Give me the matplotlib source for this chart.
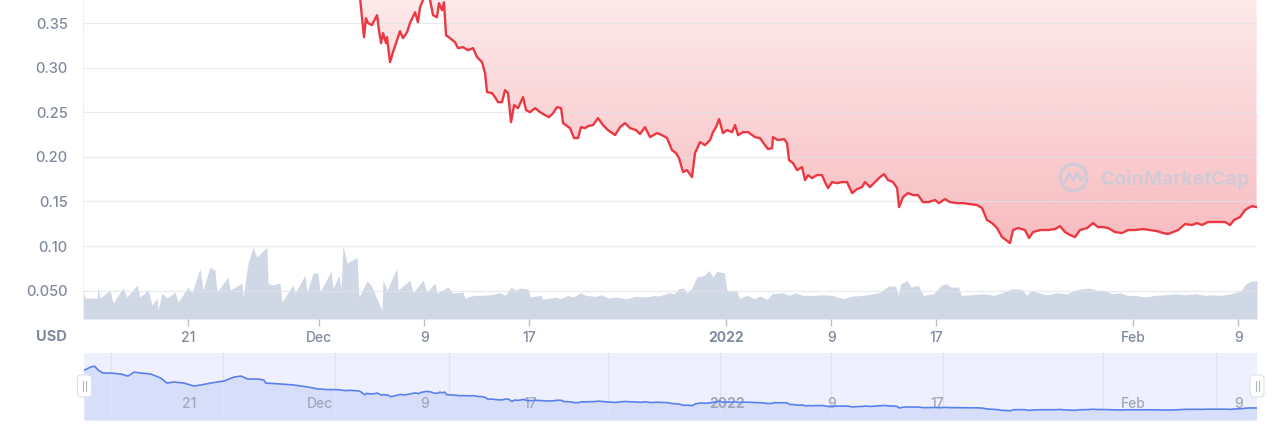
import numpy as np
import pandas as pd
import matplotlib
matplotlib.use("Agg")
import matplotlib.pyplot as plt
import matplotlib.dates as mdates
from matplotlib.patches import FancyBboxPatch, Circle
from matplotlib.transforms import IdentityTransform

plt.rcParams['font.family'] = ['Inter', 'DejaVu Sans']

START = pd.Timestamp("2021-11-13")
END_DAY = 89.41  # right edge of the chart, days after START

early_days = [0.0, 0.5, 0.8, 1.1, 1.45, 2.06, 2.82, 3.35, 3.81, 4.34, 5.10, 5.86, 6.32, 6.85,
              7.62, 8.38, 8.91, 9.67, 10.66, 11.42, 11.96, 12.49, 13.25, 13.71, 13.86, 15.0,
              15.99, 17.06, 17.82, 18.58, 19.34, 19.95, 20.33, 20.94]
early_price = [0.69, 0.735, 0.75, 0.69, 0.65, 0.65, 0.635, 0.606, 0.663, 0.65, 0.635, 0.577,
               0.505, 0.52, 0.505, 0.462, 0.477, 0.505, 0.534, 0.591, 0.606, 0.563, 0.563,
               0.548, 0.505, 0.491, 0.477, 0.448, 0.42, 0.41, 0.41, 0.395, 0.40, 0.39]

# visible price (USD)
price_days = [21.10, 21.25, 21.40, 21.55, 21.71, 22.01, 22.39, 22.54, 22.70, 22.85,
              23.08, 23.15, 23.38, 23.61, 23.91, 24.14, 24.37, 24.68, 24.90, 25.29,
              25.51, 25.67, 25.90, 26.12, 26.43, 26.66, 26.96, 27.11, 27.34, 27.49,
              27.65, 27.95, 28.33, 28.56, 28.94, 29.32, 29.70, 30.01, 30.39, 30.62,
              30.77, 31.15, 31.38, 31.61, 31.91, 32.14, 32.37, 32.60, 32.83, 33.13,
              33.51, 33.74, 34.04, 34.43, 34.81, 35.19, 35.49, 35.80, 36.10, 36.41,
              36.56, 37.09, 37.40, 37.70, 37.93, 38.23, 38.46, 38.84, 39.22, 39.60,
              39.98, 40.52, 40.90, 41.28, 41.66, 42.12, 42.42, 42.80, 43.18, 43.72,
              44.10, 44.48, 44.86, 45.16, 45.39, 45.70, 46.00, 46.38, 46.61, 46.99,
              47.37, 47.75, 47.98, 48.21, 48.44, 48.74, 49.05, 49.43, 49.66, 49.89,
              50.27, 50.65, 51.18, 51.56, 51.94, 52.17, 52.48, 52.55, 52.93, 53.39,
              53.62, 53.77, 54.07, 54.38, 54.76, 54.99, 55.22, 55.52, 55.90, 56.28,
              56.51, 56.74, 57.05, 57.43, 57.81, 58.19, 58.57, 58.95, 59.33, 59.56,
              59.94, 60.32, 60.70, 61.01, 61.31, 61.69, 62.00, 62.15, 62.45, 62.83,
              63.21, 63.59, 63.97, 64.36, 64.89, 65.19, 65.65, 66.03, 66.57, 67.02,
              67.56, 68.09, 68.47, 68.85, 69.23, 69.61, 69.99, 70.30, 70.60, 70.83,
              71.21, 71.74, 72.05, 72.35, 72.89, 73.50, 74.03, 74.41, 74.79, 75.17,
              75.55, 75.93, 76.47, 76.92, 77.30, 77.68, 78.07, 78.60, 79.13, 79.59,
              80.12, 80.73, 81.26, 81.80, 82.25, 82.64, 83.02, 83.40, 83.93, 84.46,
              84.84, 85.22, 85.68, 86.21, 86.60, 86.98, 87.36, 87.66, 88.12, 88.50,
              88.73, 89.03, 89.38]
price = [0.378, 0.3567, 0.3343, 0.3556, 0.35, 0.3478, 0.359, 0.3422, 0.3276, 0.3388,
         0.3276, 0.3343, 0.3063, 0.3175, 0.3309, 0.341, 0.3332, 0.3399, 0.35, 0.3623,
         0.3511, 0.3679, 0.376, 0.385, 0.376, 0.359, 0.3567, 0.3724, 0.3646, 0.3735,
         0.3365, 0.3332, 0.3287, 0.322, 0.3231, 0.3197, 0.322, 0.3119, 0.3063, 0.2939,
         0.2727, 0.2715, 0.2671, 0.2614, 0.2614, 0.2749, 0.2715, 0.239, 0.2581, 0.2547,
         0.2671, 0.2525, 0.2502, 0.2547, 0.2502, 0.2469, 0.2446, 0.2491, 0.2558, 0.2547,
         0.2379, 0.2323, 0.2211, 0.2211, 0.2334, 0.2323, 0.2345, 0.2357, 0.2435, 0.2357,
         0.2301, 0.2245, 0.2334, 0.2379, 0.2323, 0.2301, 0.2256, 0.2334, 0.2222, 0.2267,
         0.2244, 0.2211, 0.2076, 0.2043, 0.1987, 0.1830, 0.1852, 0.1774, 0.2043, 0.2166,
         0.2132, 0.2188, 0.2278, 0.2334, 0.2424, 0.2267, 0.2301, 0.2278, 0.2357, 0.2244,
         0.2278, 0.2278, 0.2222, 0.2211, 0.2132, 0.2088, 0.2099, 0.2222, 0.2188, 0.22,
         0.2155, 0.1964, 0.1931, 0.1852, 0.1886, 0.174, 0.1796, 0.1762, 0.1796, 0.1796,
         0.1718, 0.165, 0.1718, 0.1706, 0.1718, 0.1718, 0.1594, 0.1639, 0.1662, 0.1718,
         0.1662, 0.1718, 0.1774, 0.1807, 0.174, 0.1718, 0.165, 0.1437, 0.1549, 0.1594,
         0.1572, 0.1572, 0.1493, 0.1493, 0.1516, 0.1482, 0.1527, 0.1493, 0.1482, 0.1482,
         0.1471, 0.146, 0.1426, 0.1292, 0.1258, 0.1202, 0.1101, 0.1067, 0.1034, 0.118,
         0.1202, 0.118, 0.109, 0.1157, 0.118, 0.118, 0.1191, 0.1224, 0.1157, 0.1124,
         0.1101, 0.118, 0.1202, 0.1258, 0.1213, 0.1213, 0.1202, 0.1157, 0.1146, 0.118,
         0.118, 0.1191, 0.118, 0.1168, 0.1146, 0.1135, 0.1157, 0.118, 0.1247, 0.1236,
         0.1258, 0.1236, 0.127, 0.127, 0.127, 0.127, 0.1236, 0.1292, 0.1325, 0.1404,
         0.1426, 0.1448, 0.1437]

# 24h volume (relative units, the chart has no volume scale)
vol_days = [0, 0.15, 1.07, 1.14, 1.29, 2.06, 2.28, 3.05, 3.35, 4.11,
            4.34, 4.95, 5.26, 5.64, 5.71, 6.02, 6.40, 7.01, 7.24, 8.00,
            8.30, 8.91, 9.14, 9.67, 10.05, 10.21, 11.04, 11.20, 12.11, 12.19,
            12.57, 12.95, 13.25, 14.01, 14.09, 14.39, 15.00, 15.16, 15.99, 16.15,
            16.91, 17.06, 17.52, 17.90, 18.05, 18.89, 19.04, 19.50, 19.65, 19.80,
            20.11, 20.87, 21.02, 21.63, 21.93, 22.77, 22.85, 23.15, 23.91, 23.99,
            24.90, 25.13, 25.89, 26.20, 26.81, 26.96, 27.80, 28.18, 28.94, 29.09,
            29.86,
            30.24, 31.00, 31.77, 32.16, 32.61, 32.92, 33.31, 33.88, 34.07, 34.84,
            35.03, 36.00, 36.37, 36.95, 37.33, 37.91, 38.29, 39.06, 39.44, 40.02,
            40.60, 41.36, 42.13, 42.90, 43.47, 43.86, 44.62, 45.01, 45.39, 45.77,
            45.97, 46.35, 46.73, 47.31, 47.69, 47.96, 48.27, 48.84, 49.04, 49.80,
            50.00, 50.57, 51.15, 51.53, 52.11, 52.49, 53.26, 53.83, 54.22, 54.79,
            55.56, 56.33, 57.10, 57.86, 58.63, 59.40, 60.17, 60.74, 61.32, 61.89,
            62.09, 62.28, 62.77, 63.04, 63.62, 64.00, 64.77, 65.35, 65.73, 66.11,
            66.69, 66.88, 67.65, 68.61, 69.38, 70.14, 70.72, 71.48, 71.87, 72.25,
            72.83, 73.40, 74.17, 74.94, 75.51, 76.09, 76.66, 77.24, 77.81, 78.39,
            78.96, 79.54, 80.11, 80.88, 81.65, 82.42, 83.18, 83.95, 84.72, 85.49,
            86.06, 86.64, 87.40, 87.79, 88.17, 88.56, 88.94, 89.41]
volume = [29, 21, 21, 32, 21, 29, 16, 31, 22, 34,
          22, 29, 14, 21, 9, 26, 21, 27, 17, 32,
          26, 51, 29, 52, 49, 27, 42, 29, 36, 22,
          56, 72, 62, 72, 36, 34, 36, 17, 34, 26,
          44, 27, 46, 46, 27, 48, 31, 44, 29, 74,
          56, 62, 22, 38, 34, 9, 39, 29, 51, 29,
          39, 26, 39, 27, 36, 26, 32, 26, 27, 21,
          24,
          23.7, 24.3, 26.3, 23.7, 32, 28.7, 31, 30.3, 22, 23.7,
          19.7, 22, 20.3, 23.7, 22, 26.3, 23.7, 22.7, 24.3, 21,
          22, 20.3, 22.7, 22, 23.7, 23, 26.3, 25.3, 30.3, 31,
          26.3, 30.3, 42, 43.7, 48.7, 42, 47.7, 46.3, 28.7, 28.7,
          20.3, 23.7, 20.3, 23, 19.7, 25.3, 26.3, 23.7, 26.3, 23.7,
          23.7, 24.3, 23.7, 20.3, 23, 23.7, 25.3, 27, 33, 33,
          23.7, 35.3, 38.7, 32, 33.7, 23.7, 25.3, 33.7, 35.3, 32,
          32, 23.7, 24.3, 25.3, 23.7, 27, 30.3, 29.7, 23.7, 28.7,
          26.3, 24.3, 26.3, 25.3, 28.7, 30.3, 31, 28.7, 28.7, 25.3,
          26.3, 23.7, 23.7, 22, 23.7, 24.3, 25.3, 24.3, 25.3, 23.7,
          24.3, 23.7, 25.3, 27, 27.7, 35.3, 37.7, 38.7]

tick_days = [8, 18, 26, 34, 49, 57, 65, 80, 88]
tick_labels = ["21", "Dec", "9", "17", "2022", "9", "17", "Feb", "9"]
nav_grid_days = [2.06, 10.59, 19.12, 27.80, 39.91, 48.51, 56.97, 65.50, 77.68, 86.29]
y_ticks = [0.05, 0.10, 0.15, 0.20, 0.25, 0.30, 0.35]
y_labels = ["0.050", "0.10", "0.15", "0.20", "0.25", "0.30", "0.35"]

RED = "#ea3943"
GREY_TXT = "#808a9d"
W, H = 1276, 433

t0 = mdates.date2num(START)
t_all = t0 + np.array(early_days + price_days)
p_all = np.array(early_price + price)
t_vol = t0 + np.array(vol_days)
x_min, x_max = t0, t0 + END_DAY
y_bot, y_top = 0.0182, 0.376

fig = plt.figure(figsize=(W / 100, H / 100), dpi=100)

# ---- main price panel
ax = fig.add_axes([83 / W, 1 - 319 / H, (1257 - 83) / W, 319 / H])

# red gradient between the line and the (off-screen) baseline above
poly = ax.fill_between(t_all, p_all, 1.0, facecolor="none", edgecolor="none")
grad = np.zeros((256, 1, 4))
grad[..., :3] = matplotlib.colors.to_rgb(RED)
grad[:, 0, 3] = np.linspace(0.41, 0.11, 256)
im = ax.imshow(grad, extent=[x_min, x_max, y_bot, y_top], origin="lower",
               aspect="auto", interpolation="bilinear", zorder=1)
im.set_clip_path(poly.get_paths()[0], transform=ax.transData)

# volume sits at the bottom of the same panel
vol_scale = (0.101 - y_bot) / max(volume)
ax.fill_between(t_vol, y_bot, y_bot + np.array(volume) * vol_scale,
                color="#cfd6e4", lw=0, alpha=0.95, zorder=1.5)

ax.plot(t_all, p_all, color=RED, lw=1.7, zorder=3, solid_joinstyle="round")

ax.set_xlim(x_min, x_max)
ax.set_ylim(y_bot, y_top)
ax.set_yticks(y_ticks)
ax.set_yticklabels(y_labels)
ax.set_xticks(t0 + np.array(tick_days))
ax.set_xticklabels(tick_labels)
ax.set_axisbelow(False)
ax.grid(axis="y", color="#dfe3ea", lw=0.9, alpha=0.7)
ax.tick_params(axis="y", length=0, pad=11, labelsize=10.5, labelcolor=GREY_TXT)
ax.tick_params(axis="x", length=5, width=1, color="#b8c0ce", pad=3.5,
               labelsize=10, labelcolor=GREY_TXT)
for lab in ax.get_xticklabels() + ax.get_yticklabels():
    lab.set_fontweight("medium")
ax.get_xticklabels()[4].set_fontweight("bold")
for s in ["top", "right", "bottom"]:
    ax.spines[s].set_visible(False)
ax.spines["left"].set_color("#eef0f3")

fig.text(51 / W, 1 - 337 / H, "USD", ha="center", va="center", fontsize=10.5,
         fontweight="bold", color=GREY_TXT)

# watermark
fig.text(1100 / W, 1 - 179 / H, "CoinMarketCap", ha="left", va="center", fontsize=14,
         fontweight="bold", color="#c2cbdc", alpha=0.7, zorder=5)
logo = fig.add_axes([1058 / W, 1 - 193 / H, 31 / W, 31 / H])
logo.set_xlim(0, 1)
logo.set_ylim(0, 1)
logo.axis("off")
logo.add_patch(Circle((0.5, 0.5), 0.43, fill=False, lw=2.4, ec="#c2cbdc", alpha=0.7))
logo.plot([0.22, 0.36, 0.5, 0.62, 0.72, 0.8], [0.36, 0.64, 0.4, 0.64, 0.42, 0.48],
          color="#c2cbdc", lw=2.2, alpha=0.7)

# ---- navigator
nav = fig.add_axes([84 / W, 1 - 420 / H, (1257 - 84) / W, 67 / H])
nav.set_facecolor("#eef1fd")
nav.fill_between(t_all, -0.03, p_all, color="#d7defa", lw=0, zorder=1)
for d in nav_grid_days:
    nav.axvline(t0 + d, color="#dde3f6", lw=1, zorder=1.2)
for d, lab in zip(tick_days, tick_labels):
    nav.text(t0 + d, 0.24, lab, transform=nav.get_xaxis_transform(), ha="center",
             va="center", fontsize=10, color="#a1a9b8",
             fontweight="bold" if lab == "2022" else "medium", zorder=1.5)
nav.plot(t_all, p_all, color="#5a80ec", lw=1.2, zorder=2)
nav.set_xlim(x_min, x_max)
nav.set_ylim(-0.03, 0.94)
nav.set_xticks([])
nav.set_yticks([])
for s in nav.spines.values():
    s.set_visible(False)

# range handles (pixel coordinates)
for cx in (84.5, 1257):
    handle = FancyBboxPatch((cx - 7, H - 397), 14, 22,
                            boxstyle="round,pad=0,rounding_size=4",
                            transform=IdentityTransform(), fc="white", ec="#dde1e8",
                            lw=0.8, zorder=10)
    fig.add_artist(handle)
    for dx in (-1.5, 1.5):
        fig.add_artist(plt.Line2D([cx + dx, cx + dx], [H - 391, H - 381],
                                  transform=IdentityTransform(), color="#b0b7c4",
                                  lw=0.8, zorder=11))

fig.savefig("out.png", dpi=100)
